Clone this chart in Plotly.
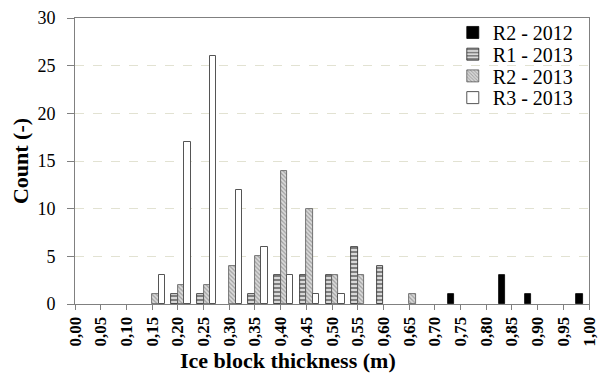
import plotly.graph_objects as go

thickness = [0.00, 0.05, 0.10, 0.15, 0.20, 0.25, 0.30, 0.35, 0.40, 0.45, 0.50,
             0.55, 0.60, 0.65, 0.70, 0.75, 0.80, 0.85, 0.90, 0.95, 1.00]
tick_labels = ["0,00", "0,05", "0,10", "0,15", "0,20", "0,25", "0,30", "0,35", "0,40", "0,45", "0,50",
               "0,55", "0,60", "0,65", "0,70", "0,75", "0,80", "0,85", "0,90", "0,95", "1,00"]
r2_2012 = [0, 0, 0, 0, 0, 0, 0, 0, 0, 0, 0, 0, 0, 0, 0, 1, 0, 3, 1, 0, 1]
r1_2013 = [0, 0, 0, 0, 1, 1, 0, 1, 3, 3, 3, 6, 4, 0, 0, 0, 0, 0, 0, 0, 0]
r2_2013 = [0, 0, 0, 1, 2, 2, 4, 5, 14, 10, 3, 3, 0, 1, 0, 0, 0, 0, 0, 0, 0]
r3_2013 = [0, 0, 0, 3, 17, 26, 12, 6, 3, 1, 1, 0, 0, 0, 0, 0, 0, 0, 0, 0, 0]
y_ticks = [0, 5, 10, 15, 20, 25, 30]

SERIF = "Liberation Serif"


def nz(vals):
    return [v if v else None for v in vals]


fig = go.Figure()
fig.add_trace(go.Bar(
    x=thickness, y=nz(r2_2012), name="R2 - 2012", legend="legend",
    marker=dict(color="black", line=dict(color="black", width=0.8)),
))
fig.add_trace(go.Bar(
    x=thickness, y=nz(r1_2013), name="R1 - 2013", legend="legend2",
    marker=dict(color="white", line=dict(color="#222222", width=0.8),
                pattern=dict(shape="-", fgcolor="black", bgcolor="white",
                             size=4, solidity=0.65, fillmode="overlay")),
))
fig.add_trace(go.Bar(
    x=thickness, y=nz(r2_2013), name="R2 - 2013", legend="legend3",
    marker=dict(color="#d4d4d4", line=dict(color="#555555", width=0.8),
                pattern=dict(shape="\\", fgcolor="#666666", bgcolor="#dadada",
                             size=3, solidity=0.4, fillmode="overlay")),
))
fig.add_trace(go.Bar(
    x=thickness, y=nz(r3_2013), name="R3 - 2013", legend="legend4",
    marker=dict(color="white", line=dict(color="#555555", width=1)),
))


def leg(yc):
    return dict(
        x=0.735, y=yc, xanchor="left", yanchor="middle",
        font=dict(family=SERIF, size=20, color="black"),
        bgcolor="rgba(255,255,255,0)", itemwidth=30,
    )


fig.update_layout(
    width=607, height=383,
    margin=dict(l=75, r=8, t=17, b=79),
    paper_bgcolor="white", plot_bgcolor="white",
    barmode="group", bargap=0, bargroupgap=0,
    font=dict(family=SERIF, color="black"),
    showlegend=True,
    legend=leg(0.9495), legend2=leg(0.8735), legend3=leg(0.7976), legend4=leg(0.7216),
    annotations=[dict(
        text="<b>Ice block thickness (m)</b>", xref="paper", yref="paper",
        x=0.415, y=-0.196, xanchor="center", yanchor="middle", showarrow=False,
        font=dict(family=SERIF, size=22, color="black"),
    )],
)
fig.update_xaxes(
    range=[0, 1],
    tickmode="array", tickvals=thickness, ticktext=tick_labels,
    tickangle=-90, ticklabeloverflow="allow",
    tickfont=dict(family=SERIF, size=17, color="black", weight="bold"),
    ticks="outside", ticklen=5, tickcolor="#808080",
    showline=True, linecolor="#808080", linewidth=1, mirror=True,
    showgrid=False, zeroline=False,
)
fig.update_yaxes(
    range=[0, 30],
    tickmode="array", tickvals=y_ticks,
    tickfont=dict(family=SERIF, size=18, color="black"),
    ticks="outside", ticklen=7, tickcolor="#808080", ticklabelstandoff=8,
    showline=True, linecolor="#808080", linewidth=1, mirror=True,
    showgrid=True, gridcolor="#e2e2d2", griddash="dash", gridwidth=1,
    zeroline=False,
    title=dict(text="<b>Count (-)</b>",
               font=dict(family=SERIF, size=22, color="black"), standoff=2),
)

fig.write_html("out.html")
